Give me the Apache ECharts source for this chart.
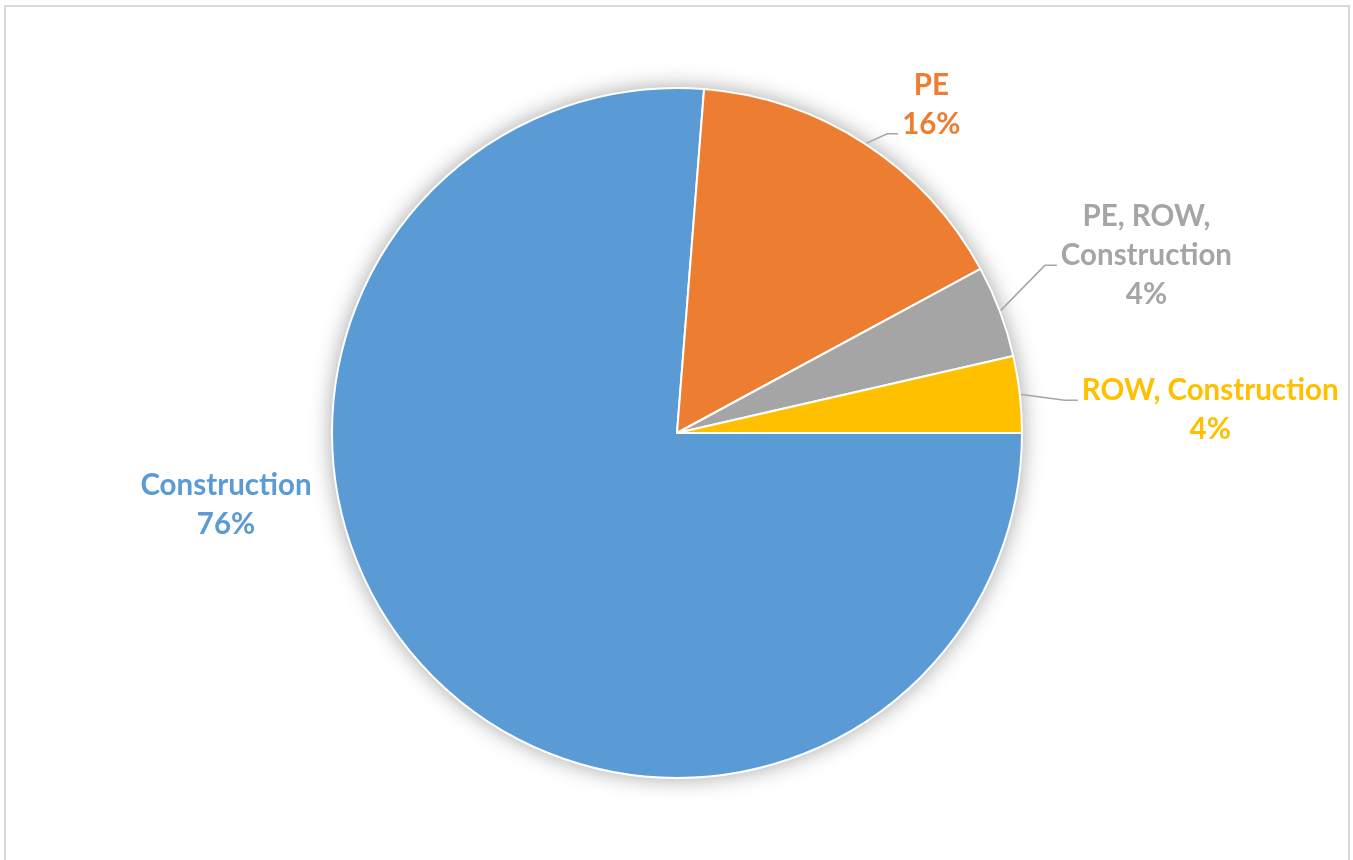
<!DOCTYPE html>
<html>
<head>
<meta charset="utf-8">
<script src="https://cdn.jsdelivr.net/npm/echarts@6/dist/echarts.min.js"></script>
<style>
  html, body { margin: 0; padding: 0; background: #fff; }
  #chart { width: 1353px; height: 860px; }
</style>
</head>
<body>
<div id="chart"></div>
<script>
// ---- data ----
const categories = ["Construction", "PE", "PE, ROW, Construction", "ROW, Construction"];
const values = [76.25, 15.86, 4.31, 3.58];
const colors = ["#5B9BD5", "#ED7D31", "#A5A5A5", "#FFC000"];

// ---- layout / style ----
const CX = 677, CY = 433, R = 345;
const FONT = 'Lato, "Liberation Sans", sans-serif';
// label placement: line bends (relative to slice edge point), or offset from centre if no line
const labelPlace = [
  { fromCenter: [-451, 72] },
  { bend: [22, -10], len2: 11, dy: -29 },
  { bend: [45, -46], len2: 12, dy: -10 },
  { bend: [45, 6],  len2: 13, dy: 10 }
];
const GAP = 4;

const chart = echarts.init(document.getElementById('chart'));

const pieData = categories.map((name, i) => ({
  name: name,
  value: values[i],
  itemStyle: { color: colors[i] },
  label: { color: colors[i] },
  labelLine: { show: i !== 0 }
}));

chart.setOption({
  backgroundColor: '#ffffff',
  animation: false,
  graphic: [{
    type: 'rect',
    shape: { x: 5, y: 6, width: 1344, height: 900 },
    style: { fill: 'none', stroke: '#D9D9D9', lineWidth: 2 },
    silent: true, z: -10
  }],
  series: [
    {
      // soft outer shadow behind the pie
      type: 'pie',
      center: [CX, CY],
      radius: R,
      silent: true,
      z: 1,
      label: { show: false },
      labelLine: { show: false },
      itemStyle: {
        color: '#ffffff',
        shadowBlur: 22,
        shadowColor: 'rgba(0,0,0,0.38)'
      },
      data: [{ value: 1, name: '' }]
    },
    {
      type: 'pie',
      center: [CX, CY],
      radius: R,
      startAngle: 0,
      clockwise: true,
      z: 2,
      percentPrecision: 0,
      avoidLabelOverlap: false,
      itemStyle: { borderColor: '#ffffff', borderWidth: 2 },
      label: {
        show: true,
        position: 'outside',
        fontFamily: FONT,
        fontWeight: 'bold',
        fontSize: 29.5,
        lineHeight: 39,
        formatter: function (p) {
          const n = p.dataIndex === 2 ? p.name.replace(', Construction', ',\nConstruction') : p.name;
          return n + '\n' + p.percent + '%';
        }
      },
      labelLine: {
        show: true,
        length: 20,
        length2: 10,
        lineStyle: { color: '#A6A6A6', width: 1.5 }
      },
      labelLayout: function (params) {
        const cfg = labelPlace[params.dataIndex];
        const w = params.labelRect.width;
        if (cfg.fromCenter) {
          return {
            x: CX + cfg.fromCenter[0],
            y: CY + cfg.fromCenter[1],
            align: 'center',
            verticalAlign: 'middle'
          };
        }
        const p0 = params.labelLinePoints[0];
        const p1 = [p0[0] + cfg.bend[0], p0[1] + cfg.bend[1]];
        const p2 = [p1[0] + cfg.len2, p1[1]];
        return {
          x: p2[0] + GAP + w / 2,
          y: p2[1] + cfg.dy,
          align: 'center',
          verticalAlign: 'middle',
          labelLinePoints: [p0, p1, p2]
        };
      },
      data: pieData
    }
  ]
});
</script>
</body>
</html>
